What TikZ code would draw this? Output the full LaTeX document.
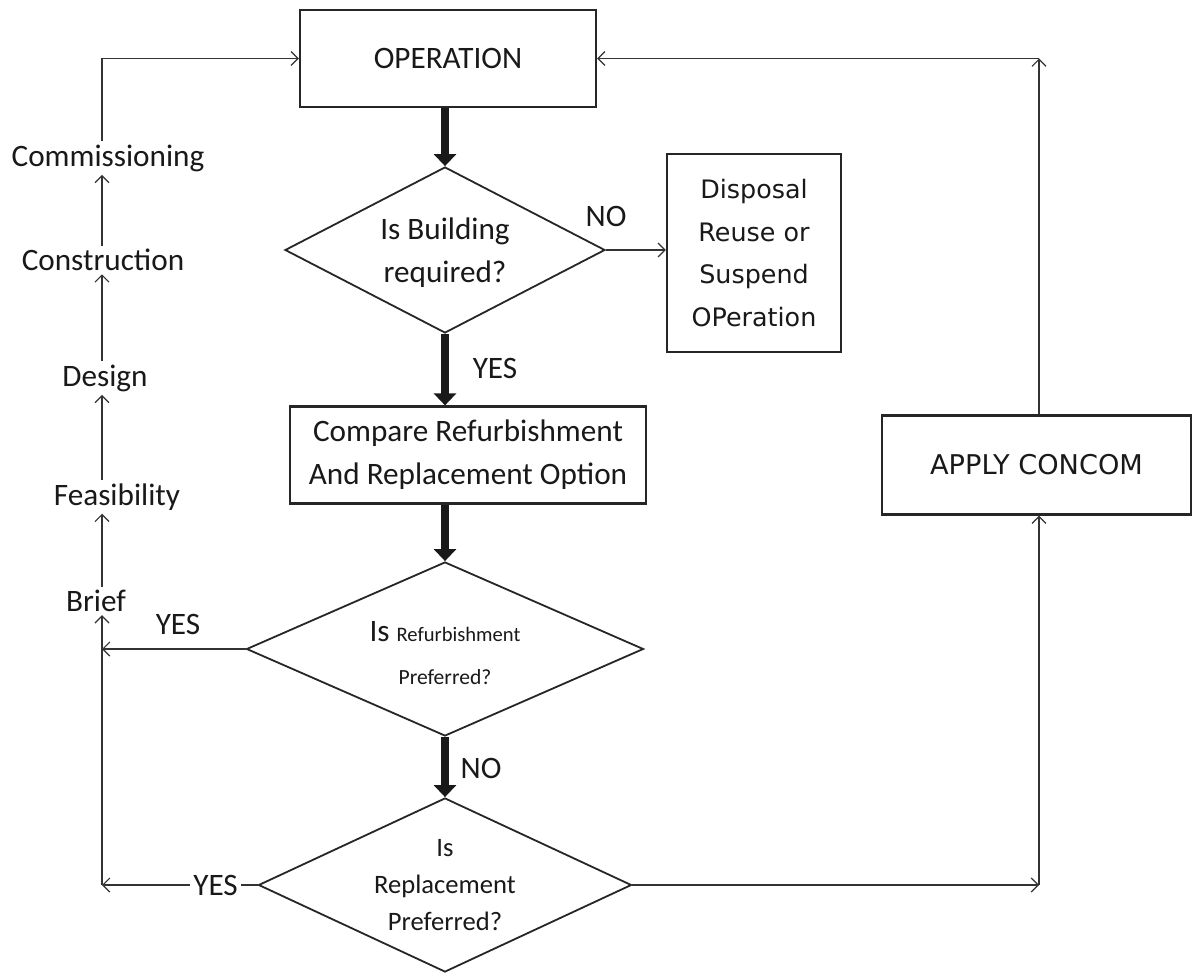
\documentclass[tikz,border=0pt]{standalone}
\usepackage{fontspec}
\setmainfont{Carlito}
\newfontfamily\verd{DejaVu Sans}
\usetikzlibrary{shapes.geometric,arrows.meta}
\begin{document}
\begin{tikzpicture}[x=0.5pt,y=-0.5pt,
  box/.style={draw=black!85, line width=1.1pt, rectangle, inner sep=0pt, align=center, text=black!90},
  dia/.style={draw=black!85, line width=0.9pt, diamond, inner sep=0pt},
  txt/.style={font=\fontsize{15.6}{21.5}\selectfont, text=black!90, align=center, inner sep=0pt},
  lbl/.style={font=\fontsize{15.6}{19}\selectfont, text=black!90, inner sep=1.5pt},
  thinarrow/.style={draw=black!80, line width=0.6pt, -{Straight Barb[length=3.5pt,width=7pt]}},
  thickarrow/.style={draw=black!90, line width=3.6pt, -{Triangle[length=6pt,width=11pt]}},
]
\fill[white] (0,0) rectangle (1194,974);
\useasboundingbox (0,0) rectangle (1194,974);

% main boxes
\node[box, minimum width=148pt, minimum height=48.5pt, font=\fontsize{15.6}{21.5}\selectfont] (op) at (448,58.5) {OPERATION};
\node[dia, minimum width=160pt, minimum height=83pt] (d1) at (445,250) {};
\node[txt] (d1t) at (445,253) {Is Building\\required?};
\node[box, minimum width=87pt, minimum height=99pt, font=\verd\fontsize{12.7}{21.3}\selectfont] (disp) at (754,253) {Disposal\\Reuse or\\Suspend\\OPeration};
\node[box, minimum width=178pt, minimum height=48.5pt, font=\fontsize{15.6}{21.5}\selectfont] (cmp) at (468,455) {Compare Refurbishment\\And Replacement Option};
\node[dia, minimum width=198.5pt, minimum height=87pt] (d2) at (445,649) {};
\node[txt] (d2t) at (445,653) {Is {\fontsize{10.3}{12}\selectfont Refurbishment}\\{\fontsize{10.8}{12}\selectfont Preferred?}};
\node[dia, minimum width=186.5pt, minimum height=87pt] (d3) at (445,885) {};
\node[txt, font=\fontsize{13.3}{18.5}\selectfont] (d3t) at (445,885) {Is\\Replacement\\Preferred?};
\node[box, minimum width=154.5pt, minimum height=49.5pt, font=\verd\fontsize{13.6}{16}\selectfont] (apply) at (1036.5,465) {APPLY CONCOM};

% stage labels
\node[lbl] (comm) at (108,158) {Commissioning};
\node[lbl] (cons) at (103,260) {Construction};
\node[lbl] (des) at (105,378) {Design};
\node[lbl] (feas) at (117,497) {Feasibility};
\node[lbl] (brief) at (96,601) {Brief};

% decision labels
\node[lbl] (no1) at (606,216) {NO};
\node[lbl] (yes1) at (495,368) {YES};
\node[lbl] (yes2) at (178,624) {YES};
\node[lbl] (no2) at (481,768) {NO};

\coordinate (lc) at (102,0);
\coordinate (rc) at (1039,0);

% thick flow
\draw[thickarrow] (op.south -| d1.north) -- (d1.north);
\draw[thickarrow] (d1.south) -- (d1.south |- cmp.north);
\draw[thickarrow] (d2.north |- cmp.south) -- (d2.north);
\draw[thickarrow] (d2.south) -- (d3.north);

% thin connectors
\draw[thinarrow] (d1.east) -- (d1.east -| disp.west);
\draw[thinarrow] (d2.west) -- (d2.west -| lc);
\draw[thinarrow] (d3.west) -- node[pos=0.27, lbl, fill=white] (yes3) {YES} (d3.west -| lc);
\draw[thinarrow] (d3.west -| lc) -- (brief.south -| lc);
\draw[thinarrow] (brief.north -| lc) -- (feas.south -| lc);
\draw[thinarrow] (feas.north -| lc) -- (des.south -| lc);
\draw[thinarrow] (des.north -| lc) -- (cons.south -| lc);
\draw[thinarrow] (cons.north -| lc) -- (comm.south -| lc);
\draw[thinarrow] (comm.north -| lc) |- (op.west);
\draw[thinarrow] (d3.east) -- (d3.east -| rc);
\draw[thinarrow] (d3.east -| rc) -- (apply.south -| rc);
\draw[thinarrow] (apply.north -| rc) -- (op.east -| rc);
\draw[thinarrow] (op.east -| rc) -- (op.east);
\end{tikzpicture}
\end{document}
